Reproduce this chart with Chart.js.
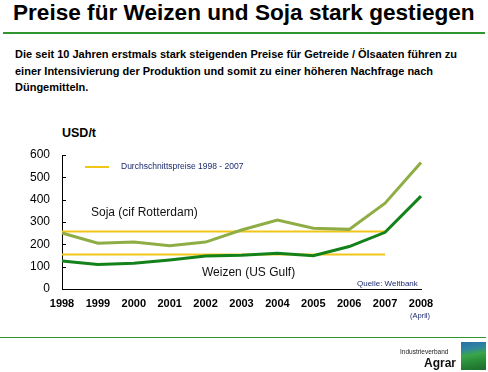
<!DOCTYPE html>
<html>
<head>
<meta charset="utf-8">
<script src="https://cdn.jsdelivr.net/npm/chart.js@4.4.1/dist/chart.umd.min.js"></script>
<style>
  html, body { margin:0; padding:0; background:#fff; }
  body { width:488px; height:372px; position:relative; overflow:hidden; font-family:"Liberation Sans", Arial, sans-serif; }
  .abs { position:absolute; white-space:nowrap; }
  #title { left:13px; top:0px; font-size:22.6px; font-weight:bold; color:#000; }
  #rule1 { left:3px; top:32px; width:482px; height:2px; background:#2f962f; }
  #desc { left:15px; top:46px; font-size:11px; font-weight:bold; color:#000; line-height:16.5px; }
  #unit { left:62px; top:126px; font-size:12.5px; font-weight:bold; color:#000; }
  #legline { left:85px; top:166px; width:24px; height:2px; background:#f2c618; }
  #legtext { left:121px; top:161px; font-size:8.5px; color:#1b2a6e; }
  #soja { left:91px; top:205px; font-size:12px; color:#111; }
  #weizen { left:202px; top:265px; font-size:12px; color:#111; }
  #quelle { left:357px; top:279px; font-size:8px; color:#1b2a6e; }
  #april { left:410px; top:311px; font-size:7.5px; color:#1b2a6e; }
  #rule2 { left:0px; top:337px; width:486px; height:1px; background:#2f962f; }
  #ind { left:400px; top:348px; font-size:6.5px; color:#222; }
  #agrar { left:424px; top:356px; font-size:12px; font-weight:bold; color:#111; }
  #logo { left:461px; top:342px; width:25px; height:28px;
    background: linear-gradient(170deg, #2b6fa8 0%, #2e86a0 25%, #3aa64a 45%, #2b8f3a 65%, #1d6b2c 100%); }
  canvas { position:absolute; left:0; top:0; }
</style>
</head>
<body>
<div id="title" class="abs">Preise für Weizen und Soja stark gestiegen</div>
<div id="rule1" class="abs"></div>
<div id="desc" class="abs">Die seit 10 Jahren erstmals stark steigenden Preise für Getreide / Ölsaaten führen zu<br>einer Intensivierung der Produktion und somit zu einer höheren Nachfrage nach<br>Düngemitteln.</div>
<div id="unit" class="abs">USD/t</div>
<canvas id="c" width="488" height="372"></canvas>
<div id="legline" class="abs"></div>
<div id="legtext" class="abs">Durchschnittspreise 1998 - 2007</div>
<div id="soja" class="abs">Soja (cif Rotterdam)</div>
<div id="weizen" class="abs">Weizen (US Gulf)</div>
<div id="quelle" class="abs">Quelle: Weltbank</div>
<div id="april" class="abs">(April)</div>
<div id="rule2" class="abs"></div>
<div id="ind" class="abs">Industrieverband</div>
<div id="agrar" class="abs">Agrar</div>
<div id="logo" class="abs"></div>
<script>
const years = ["1998","1999","2000","2001","2002","2003","2004","2005","2006","2007","2008"];
const soja = [251, 205, 210, 194, 210, 264, 309, 272, 267, 384, 566];
const weizen = [125, 110, 115, 130, 148, 151, 160, 149, 190, 254, 416];
const sojaAvg = [257, 257, 257, 257, 257, 257, 257, 257, 257, 257, null];
const weizenAvg = [154, 154, 154, 154, 154, 154, 154, 154, 154, 154, null];
const yTicks = [0, 100, 200, 300, 400, 500, 600];

const innerTicks = {
  id: 'innerTicks',
  afterDraw(chart) {
    const ctx = chart.ctx, y = chart.scales.y;
    const left = chart.chartArea.left;
    ctx.save();
    ctx.strokeStyle = '#000';
    ctx.lineWidth = 1;
    yTicks.forEach(v => {
      if (v === 0) return;
      const py = Math.round(y.getPixelForValue(v)) + 0.5;
      ctx.beginPath();
      ctx.moveTo(left, py);
      ctx.lineTo(left + 4, py);
      ctx.stroke();
    });
    ctx.restore();
  }
};

new Chart(document.getElementById('c'), {
  type: 'line',
  data: {
    labels: years,
    datasets: [
      { data: soja, borderColor: '#8fad45', borderWidth: 3, pointRadius: 0, tension: 0, order: 1 },
      { data: weizen, borderColor: '#14821a', borderWidth: 3, pointRadius: 0, tension: 0, order: 0 },
      { data: sojaAvg, borderColor: '#f2c618', borderWidth: 2, pointRadius: 0, tension: 0, order: 3 },
      { data: weizenAvg, borderColor: '#f2c618', borderWidth: 2, pointRadius: 0, tension: 0, order: 3 }
    ]
  },
  options: {
    responsive: false,
    animation: false,
    devicePixelRatio: 1,
    layout: { padding: { left: 0, right: 67, top: 155, bottom: 53 } },
    plugins: { legend: { display: false }, tooltip: { enabled: false } },
    scales: {
      x: {
        type: 'category',
        offset: false,
        grid: { display: false, drawTicks: false },
        border: { display: true, color: '#000', width: 1 },
        ticks: { color: '#000', font: { family: 'Liberation Sans', size: 11, weight: 'bold' }, padding: 8, maxRotation: 0, autoSkip: false },
        afterFit(s) { s.height = 30; }
      },
      y: {
        min: 0, max: 600,
        grid: { display: false, drawTicks: false },
        border: { display: true, color: '#000', width: 1 },
        ticks: { stepSize: 100, color: '#000', font: { family: 'Liberation Sans', size: 12 }, padding: 12 },
        afterBuildTicks(s) { s.ticks = yTicks.map(v => ({ value: v })); },
        afterFit(s) { s.width = 62; }
      }
    }
  },
  plugins: [innerTicks]
});
</script>
</body>
</html>
